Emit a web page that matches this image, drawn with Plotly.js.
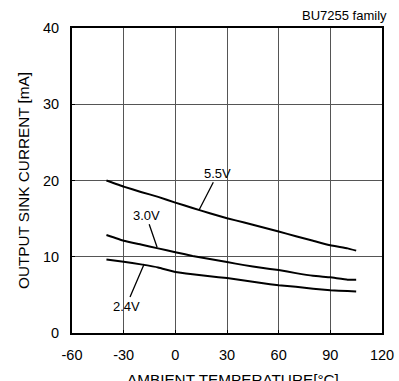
<!DOCTYPE html>
<html>
<head>
<meta charset="utf-8">
<script src="https://cdn.plot.ly/plotly-3.0.1.min.js"></script>
<style>html,body{margin:0;padding:0;background:#fff;}#chart{width:399px;height:381px;}</style>
</head>
<body>
<div id="chart"></div>
<script>
const temperature = [-40, -30, -20, -10, 0, 10, 20, 30, 40, 50, 60, 70, 80, 90, 100, 105];
const current55 = [20.0, 19.2, 18.5, 17.85, 17.1, 16.4, 15.7, 15.05, 14.5, 13.9, 13.3, 12.7, 12.1, 11.5, 11.1, 10.8];
const current30 = [12.85, 12.1, 11.6, 11.1, 10.6, 10.1, 9.7, 9.3, 8.9, 8.55, 8.25, 7.85, 7.5, 7.3, 7.0, 7.0];
const current24 = [9.65, 9.35, 9.0, 8.6, 8.0, 7.7, 7.45, 7.2, 6.9, 6.55, 6.25, 6.05, 5.8, 5.6, 5.5, 5.45];
const seriesNames = ['5.5V', '3.0V', '2.4V'];
const xTicks = [-60, -30, 0, 30, 60, 90, 120];
const yTicks = [0, 10, 20, 30, 40];
const xTitle = 'AMBIENT TEMPERATURE[°C]';
const yTitle = 'OUTPUT SINK CURRENT [mA]';

const font = 'Liberation Sans, Arial, sans-serif';
const line = {color: '#000', width: 2, shape: 'spline', smoothing: 0.3};
const traces = [current55, current30, current24].map((ys, i) => ({
  x: temperature, y: ys, name: seriesNames[i], type: 'scatter', mode: 'lines', line: line, hoverinfo: 'skip'
}));

const ann = (x, y, text, ax, ay) => ({
  x: x, y: y, xref: 'x', yref: 'y', text: text, showarrow: true, arrowhead: 0, arrowwidth: 1.3,
  arrowcolor: '#000', ax: ax, ay: ay, font: {family: font, size: 13, color: '#000'}, standoff: 0
});

const layout = {
  width: 399, height: 381,
  margin: {l: 72, r: 17, t: 28, b: 48},
  paper_bgcolor: '#fff', plot_bgcolor: '#fff',
  showlegend: false,
  font: {family: font, color: '#000', size: 14},
  xaxis: {
    range: [-60, 120], tickvals: xTicks, ticktext: xTicks.map(String),
    showgrid: true, gridcolor: '#555', gridwidth: 1,
    showline: true, mirror: true, linecolor: '#000', linewidth: 2,
    ticks: 'inside', ticklen: 3, tickcolor: '#000', ticklabelstandoff: 8,
    zeroline: false, tickfont: {size: 14.5, family: font}
  },
  yaxis: {
    range: [0, 40], tickvals: yTicks, ticktext: yTicks.map(String),
    showgrid: true, gridcolor: '#555', gridwidth: 1,
    showline: true, mirror: true, linecolor: '#000', linewidth: 2,
    ticks: 'inside', ticklen: 3, tickcolor: '#000', ticklabelstandoff: 8,
    zeroline: false, tickfont: {size: 14.5, family: font},
    title: {text: yTitle, font: {size: 15.3, family: font}, standoff: 10}
  },
  annotations: [
    ann(13.7, 16.1, '5.5V', 19, -37),
    ann(-10.6, 11.24, '3.0V', -11, -32),
    ann(-18.1, 9.04, '2.4V', -18, 42),
    {xref: 'paper', yref: 'paper', x: 1.022, y: 1.0, xanchor: 'right', yanchor: 'bottom', yshift: 3,
     text: 'BU7255 family', showarrow: false, font: {family: font, size: 13, color: '#000'}},
    {xref: 'paper', yref: 'paper', x: 0.519, y: 0, xanchor: 'center', yanchor: 'middle', yshift: -46,
     text: xTitle, showarrow: false, font: {family: font, size: 15.3, color: '#000'}}
  ]
};

Plotly.newPlot('chart', traces, layout, {displayModeBar: false, staticPlot: true});
</script>
</body>
</html>
